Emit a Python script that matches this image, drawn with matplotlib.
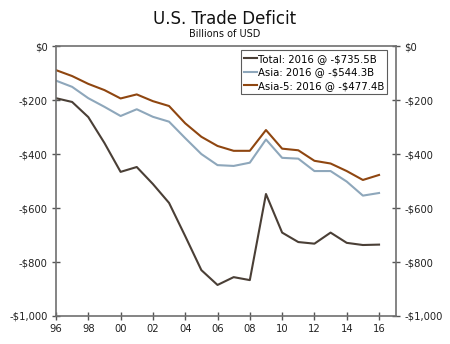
import matplotlib
matplotlib.use("Agg")
import matplotlib.pyplot as plt
from matplotlib.ticker import FuncFormatter, MultipleLocator

years = list(range(1996, 2017))
total = [-193, -207, -263, -359, -466, -448, -511, -581, -704, -830, -885, -856,
         -867, -548, -691, -726, -732, -691, -729, -737, -735.5]
asia = [-128, -151, -193, -225, -259, -234, -262, -280, -341, -400, -441, -444,
        -432, -346, -414, -417, -463, -463, -502, -554, -544.3]
asia5 = [-89, -111, -140, -163, -194, -179, -204, -222, -286, -336, -370, -388,
         -388, -311, -380, -386, -425, -435, -463, -496, -477.4]
labels = ["Total: 2016 @ -$735.5B", "Asia: 2016 @ -$544.3B", "Asia-5: 2016 @ -$477.4B"]
colors = ["#4a3f36", "#8ea7bb", "#8f4610"]

plt.rcParams['font.family'] = ['DejaVu Sans']
fig = plt.figure(figsize=(4.5, 3.44), dpi=100)
ax = fig.add_axes([0.1244, 0.0814, 0.7556, 0.7846])

for ser, lab, c in zip([total, asia, asia5], labels, colors):
    ax.plot(years, ser, color=c, lw=1.5, label=lab)

ax.set_xlim(1996, 2017.05)
ax.set_ylim(-1000, 0)
ax.xaxis.set_major_locator(MultipleLocator(2))
ax.yaxis.set_major_locator(MultipleLocator(200))
ax.xaxis.set_major_formatter(FuncFormatter(lambda v, p: f"{int(v) % 100:02d}"))
def yfmt(v, p):
    v = int(round(v))
    return "$0" if v == 0 else f"-${abs(v):,}"
ax.yaxis.set_major_formatter(FuncFormatter(yfmt))
ax.tick_params(axis='both', direction='inout', length=6, width=1, color='#555555',
               labelsize=7.2, pad=3, labelcolor='#222222')
ax.tick_params(axis='y', right=True, labelright=True)
for s in ax.spines.values():
    s.set_color('#707070')
    s.set_linewidth(1.2)

fig.text(0.5, 0.945, "U.S. Trade Deficit", ha='center', va='center', fontsize=12, color='#111111')
fig.text(0.5, 0.9, "Billions of USD", ha='center', va='center', fontsize=7, color='#111111')

leg = ax.legend(loc='upper right', bbox_to_anchor=(0.975, 0.985), fontsize=7.3, frameon=True,
                fancybox=False, handlelength=1.2, handletextpad=0.1, borderpad=0.35,
                labelspacing=0.35, borderaxespad=0)
leg.get_frame().set_edgecolor('#333333')
leg.get_frame().set_linewidth(0.8)

fig.savefig("out.png", dpi=100)
